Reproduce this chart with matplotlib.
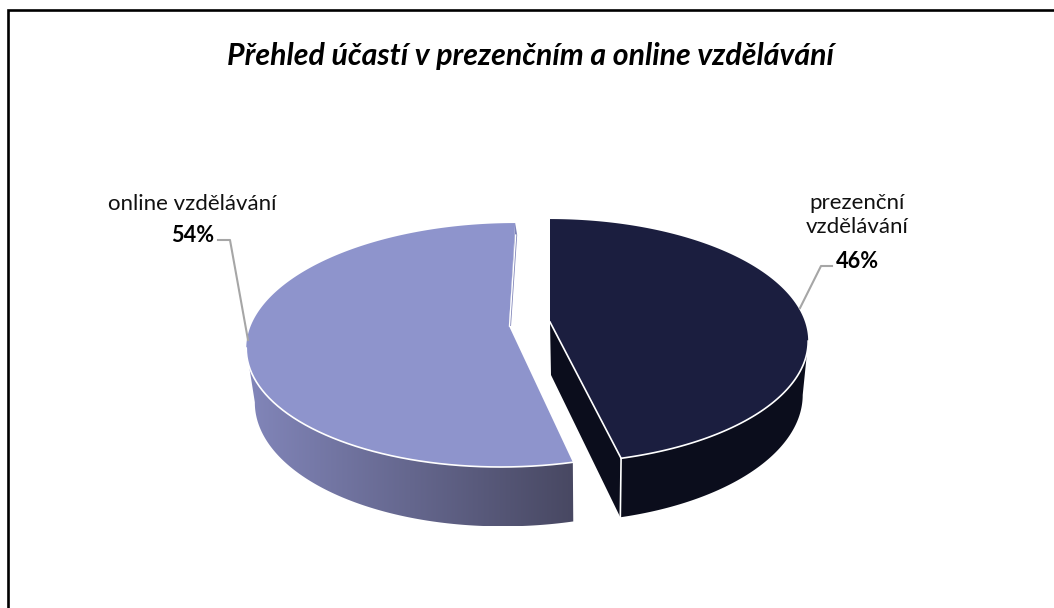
import numpy as np
import matplotlib
matplotlib.use('Agg')
import matplotlib.pyplot as plt
from matplotlib.patches import Polygon

# data
categories = ['prezenční\nvzdělávání', 'online vzdělávání']
shares = [46.2, 53.8]
title_text = 'Přehled účastí v prezenčním a online vzdělávání'

plt.rcParams['font.family'] = ['Lato', 'DejaVu Sans']

# Projection of the pie disc into pixels
RADIUS_X = 255
RADIUS_Y = 119
PERSPECTIVE = 0.156


def rim_point(angle, apex, shear=0.0, scale_x=1.0):
    # angle in radians, clockwise from 12 o'clock
    u, v = np.sin(angle), np.cos(angle)
    w = 1 + PERSPECTIVE * v
    dy = -RADIUS_Y * v / w
    dx = scale_x * RADIUS_X * u / w + shear * dy
    return apex[0] + dx, apex[1] + dy


def drop(x, y):
    # Bottom edge of the side wall for a point on the top face
    x = np.asarray(x, dtype=float)
    y = np.asarray(y, dtype=float)
    return 590 + (x - 590) * 0.975, y + 53 + 0.044 * (y - 322)


fig = plt.figure(figsize=(10.54, 6.08), dpi=100)
ax = fig.add_axes([0, 0, 1, 1])
ax.set_xlim(0, 1054)
ax.set_ylim(608, 0)
ax.axis('off')

# Outer frame, only left and top are inside the crop
ax.plot([8, 8, 1054], [608, 10, 10], color='black', lw=1.9,
        solid_joinstyle='miter', zorder=1)

ax.text(530, 56, title_text, ha='center', va='center', fontsize=21.8,
        fontweight='bold', fontstyle='italic', color='black')

fractions = np.array(shares) / sum(shares)
split = 2 * np.pi * fractions[0]

# Right slice (first category)
apex_r = (550, 322)
t = np.linspace(0, split, 300)
xr, yr = rim_point(t, apex_r)

# outer wall only from the rightmost rim point on
first = np.argmax(xr)
xb, yb = drop(xr[first:], yr[first:])
wall = np.column_stack([np.r_[xr[first:], xb[::-1]], np.r_[yr[first:], yb[::-1]]])
ax.add_patch(Polygon(wall, closed=True, fc='#0B0D1C', ec='none', zorder=2))

# radial wall towards the gap
ax_b, ay_b = drop(apex_r[0], apex_r[1])
cx_b, cy_b = drop(xr[-1], yr[-1])
ax.add_patch(Polygon([apex_r, (xr[-1], yr[-1]), (cx_b, cy_b), (ax_b, ay_b)], closed=True,
                     fc='#0B0D1C', ec='none', zorder=2))

top_r = np.column_stack([np.r_[apex_r[0], xr], np.r_[apex_r[1], yr]])
ax.add_patch(Polygon(top_r, closed=True, fc='#1B1E3F', ec='none', zorder=3))
ax.plot(xr[first:], yr[first:], color='white', lw=1.2, zorder=4)
ax.plot([apex_r[0], xr[-1], cx_b], [apex_r[1], yr[-1], cy_b], color='white', lw=1.2, zorder=4)

# Left slice (second category)
apex_l = (509, 326)
t2 = np.linspace(split, 2 * np.pi, 300)
xl, yl = rim_point(t2, apex_l, shear=-0.06, scale_x=1.013)

last = np.argmin(xl) + 1
xb2, yb2 = drop(xl[:last], yl[:last])
wall2 = np.column_stack([np.r_[xl[:last], xb2[::-1]], np.r_[yl[:last], yb2[::-1]]])
wall_patch = Polygon(wall2, closed=True, fc='none', ec='none', zorder=2)
ax.add_patch(wall_patch)

# horizontal shading on the wall
shade = np.linspace(0, 1, 256).reshape(1, -1)
shade_cmap = matplotlib.colors.LinearSegmentedColormap.from_list('wall', ['#8286BA', '#484862'])
img = ax.imshow(shade, cmap=shade_cmap, aspect='auto', zorder=2,
                extent=(wall2[:, 0].min(), wall2[:, 0].max(), wall2[:, 1].max(), wall2[:, 1].min()))
img.set_clip_path(wall_patch)
ax.set_xlim(0, 1054)
ax.set_ylim(608, 0)

# thin inner wall next to the gap
ax.add_patch(Polygon([(xl[-1] + 2, yl[-1] + 12), (apex_l[0] + 2, apex_l[1]), apex_l, (xl[-1], yl[-1])],
                     closed=True, fc='#7F84B8', ec='none', zorder=2))
ax.plot([xl[-1] + 0.5, apex_l[0] + 0.5], [yl[-1] + 12, apex_l[1]], color='white', lw=1.0, zorder=4)

top_l = np.column_stack([np.r_[apex_l[0], xl], np.r_[apex_l[1], yl]])
ax.add_patch(Polygon(top_l, closed=True, fc='#8E94CC', ec='none', zorder=3))
ax.plot(xl[:last], yl[:last], color='white', lw=1.2, zorder=4)

# Data labels
label_kw = dict(ha='center', va='center', fontsize=16, color='#111111', linespacing=1.3)
ax.text(192.5, 204, categories[1], **label_kw)
ax.text(193, 235, f'{shares[1]:.0f}%', fontweight='bold', ha='center', va='center', fontsize=15.6, color='black')
ax.text(857, 215, categories[0], **label_kw)
ax.text(857, 261, f'{shares[0]:.0f}%', fontweight='bold', ha='center', va='center', fontsize=15.6, color='black')

# Leader lines
ax.plot([218, 230, 248], [240, 240, 340], color='#A6A6A6', lw=1.5, zorder=5)
ax.plot([832, 821, 800], [266, 266, 308], color='#A6A6A6', lw=1.5, zorder=5)

fig.savefig('out.png', dpi=100, facecolor='white')
